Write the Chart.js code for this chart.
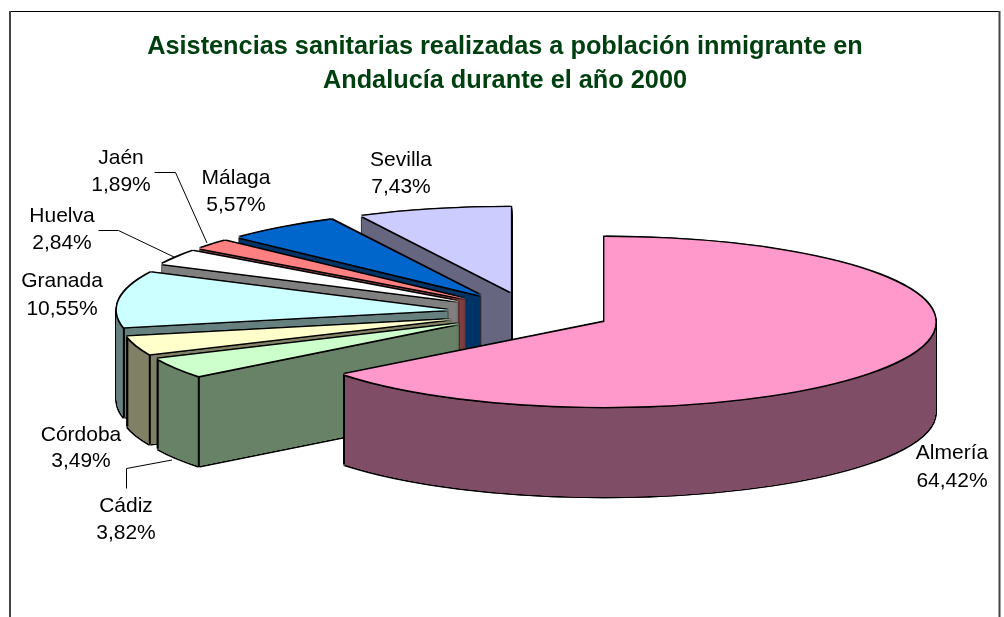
<!DOCTYPE html>
<html lang="es">
<head>
<meta charset="utf-8">
<title>Asistencias sanitarias</title>
<script src="https://cdn.jsdelivr.net/npm/chart.js@4"></script>
<style>
  html, body { margin: 0; padding: 0; background: #fff; }
  canvas { display: block; }
</style>
</head>
<body>
<canvas id="pieCanvas" width="1004" height="617"></canvas>
<script>
const titleLines = [
  "Asistencias sanitarias realizadas a población inmigrante en",
  "Andalucía durante el año 2000",
];
const provinces = ["Almería", "Cádiz", "Córdoba", "Granada", "Huelva", "Jaén", "Málaga", "Sevilla"];
const shares = [64.42, 3.82, 3.49, 10.55, 2.84, 1.89, 5.57, 7.43];
const topColours = ["#FF99CC", "#CCFFCC", "#FFFFCC", "#CCFFFF", "#FFFFFF", "#FF8080", "#0066CC", "#CCCCFF"];
const wallColours = ["#804D66", "#688268", "#808066", "#668080", "#808080", "#804040", "#003366", "#666680"];

// where the labels sit on the page: centre x, y of the first and second line
const labelPlaces = {
  "Almería": [952, 453, 481],
  "Cádiz": [126, 506, 533],
  "Córdoba": [81, 435, 461],
  "Granada": [62, 281, 309],
  "Huelva": [62, 216, 243],
  "Jaén": [121, 158, 185],
  "Málaga": [236, 178, 205],
  "Sevilla": [401, 160, 187],
};
const leaderLines = [
  [[154, 172], [175, 172], [207, 243]],
  [[98, 230], [118, 230], [174, 257]],
  [[126, 488], [126, 468], [172, 460]],
];

const pieX = 530;
const pieY = 312.6;
const pieRadius = 331;
const squash = 0.2568; // ry / rx of the tilted pie
const depth = 90;
const explode = 0.25;
const outlineSize = 1.3;

// Walls are stacked here first, stacking straight on the chart leaves bands
const wallLayer = document.createElement("canvas");
wallLayer.width = 1004;
wallLayer.height = 617;

function formatShare(value) {
  return value.toFixed(2).replace(".", ",") + "%";
}

function sliceCentre(arc) {
  const mid = (arc.startAngle + arc.endAngle) / 2;
  return {
    x: pieX + Math.cos(mid) * explode * pieRadius,
    y: pieY + Math.sin(mid) * explode * pieRadius * squash,
  };
}

// Draws the library's arc element squashed and moved to its exploded place
function paintArc(ctx, arc, colour, dx, dy) {
  const centre = sliceCentre(arc);
  const options = arc.options;
  arc.options = Object.assign({}, options, { backgroundColor: colour, borderWidth: 0, offset: 0 });
  ctx.save();
  ctx.translate(centre.x + dx, centre.y + dy);
  ctx.scale(1, squash);
  ctx.translate(-arc.x, -arc.y);
  arc.draw(ctx);
  ctx.restore();
  arc.options = options;
}

function paintOutline(ctx, arc, dy) {
  paintArc(ctx, arc, "#000", -outlineSize, dy - outlineSize);
  paintArc(ctx, arc, "#000", outlineSize, dy - outlineSize);
  paintArc(ctx, arc, "#000", -outlineSize, dy + outlineSize);
  paintArc(ctx, arc, "#000", outlineSize, dy + outlineSize);
}

function paintWall(ctx, arc, index) {
  const layer = wallLayer.getContext("2d");
  layer.clearRect(0, 0, wallLayer.width, wallLayer.height);
  // small steps: close to the apex a slice is thinner than one pixel
  for (let k = depth; k >= 0.25; k -= 0.25) paintArc(layer, arc, wallColours[index], 0, k);
  layer.drawImage(wallLayer, 0, 0);
  layer.drawImage(wallLayer, 0, 0);
  // flatten the stack to one exact colour, only the edge alpha stays
  layer.globalCompositeOperation = "source-in";
  layer.fillStyle = wallColours[index];
  layer.fillRect(0, 0, wallLayer.width, wallLayer.height);
  layer.globalCompositeOperation = "source-over";
  ctx.drawImage(wallLayer, 0, 0);
}

function paintSlice(ctx, arc, index) {
  for (let k = depth; k >= 1; k--) paintOutline(ctx, arc, k);
  paintWall(ctx, arc, index);

  // vertical edges where the rim end is on the front half of the ellipse
  const centre = sliceCentre(arc);
  ctx.strokeStyle = "#000";
  ctx.lineWidth = 2;
  for (const angle of [arc.startAngle, arc.endAngle]) {
    if (Math.sin(angle) <= 0) continue;
    const x = centre.x + Math.cos(angle) * pieRadius;
    const y = centre.y + Math.sin(angle) * pieRadius * squash;
    ctx.beginPath();
    ctx.moveTo(x, y);
    ctx.lineTo(x, y + depth);
    ctx.stroke();
  }

  paintOutline(ctx, arc, 0);
  paintArc(ctx, arc, topColours[index], 0, 0);
}

const framePlugin = {
  id: "frame",
  beforeDraw(chart) {
    const ctx = chart.ctx;
    ctx.save();
    ctx.strokeStyle = "#000";
    ctx.lineWidth = 1;
    ctx.beginPath();
    ctx.moveTo(10, 11.5);
    ctx.lineTo(1000, 11.5);
    ctx.stroke();
    ctx.strokeStyle = "#444";
    ctx.lineWidth = 2;
    ctx.beginPath();
    ctx.moveTo(10, 11);
    ctx.lineTo(10, 617);
    ctx.moveTo(999.5, 11);
    ctx.lineTo(999.5, 617);
    ctx.stroke();
    ctx.restore();
  },
};

const tiltedPiePlugin = {
  id: "tiltedPie",
  beforeDatasetsDraw(chart) {
    const ctx = chart.ctx;
    const arcs = chart.getDatasetMeta(0).data;
    // back to front: Sevilla first, Almería last
    for (let i = arcs.length - 1; i >= 0; i--) paintSlice(ctx, arcs[i], i);
    return false;
  },
};

const labelsPlugin = {
  id: "sliceLabels",
  afterDraw(chart) {
    const ctx = chart.ctx;
    ctx.save();
    ctx.strokeStyle = "#000";
    ctx.lineWidth = 1;
    for (const line of leaderLines) {
      ctx.beginPath();
      ctx.moveTo(line[0][0] + 0.5, line[0][1] + 0.5);
      ctx.lineTo(line[1][0] + 0.5, line[1][1] + 0.5);
      ctx.lineTo(line[2][0], line[2][1]);
      ctx.stroke();
    }
    ctx.fillStyle = "#000";
    ctx.font = "21px 'Liberation Sans'";
    ctx.textAlign = "center";
    ctx.textBaseline = "middle";
    provinces.forEach((name, i) => {
      const place = labelPlaces[name];
      ctx.fillText(name, place[0], place[1]);
      ctx.fillText(formatShare(shares[i]), place[0], place[2]);
    });
    ctx.restore();
  },
};

new Chart(document.getElementById("pieCanvas"), {
  type: "pie",
  data: {
    labels: provinces,
    datasets: [{ data: shares, backgroundColor: topColours, borderWidth: 0 }],
  },
  options: {
    responsive: false,
    animation: false,
    radius: pieRadius,
    layout: { padding: { left: 6 } },
    plugins: {
      legend: { display: false },
      tooltip: { enabled: false },
      title: {
        display: true,
        text: titleLines,
        color: "#004010",
        font: { family: "'Liberation Sans'", size: 25.3, weight: "bold", lineHeight: 1.345 },
        padding: { top: 30, bottom: 0 },
      },
    },
  },
  plugins: [framePlugin, tiltedPiePlugin, labelsPlugin],
});
</script>
</body>
</html>
